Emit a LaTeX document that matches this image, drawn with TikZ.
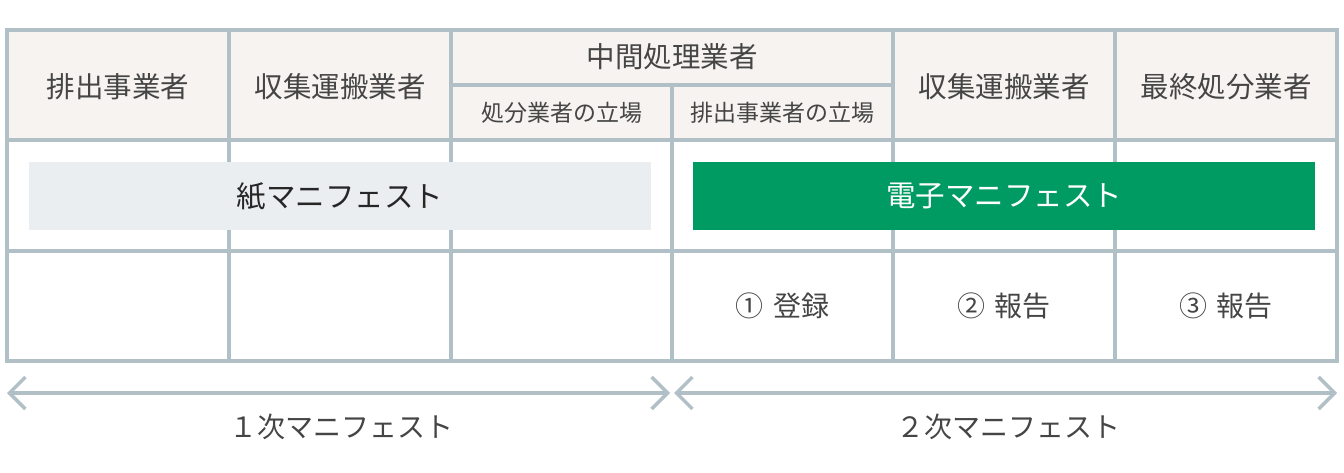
\documentclass[tikz,border=0pt]{standalone}
\usepackage{fontspec}
\setmainfont{Noto Sans CJK JP}
\usetikzlibrary{arrows.meta}
\definecolor{gridc}{HTML}{B1C0C7}
\definecolor{headbg}{HTML}{F6F3F0}
\definecolor{paperbg}{HTML}{EAEEF1}
\definecolor{egreen}{HTML}{009B63}
\definecolor{txt}{HTML}{454545}
\begin{document}
\begin{tikzpicture}[x=1pt,y=-1pt,
  gridline/.style={draw=gridc,line width=3.5pt},
  headtxt/.style={text=txt,font=\fontsize{28.5}{32}\selectfont,inner sep=0pt},
  subtxt/.style={text=txt,font=\fontsize{23}{28}\selectfont,inner sep=0pt},
  bodytxt/.style={text=txt,font=\fontsize{28}{32}\selectfont,inner sep=0pt},
  barbox/.style={anchor=north west,inner sep=0pt,minimum width=622pt,minimum height=68pt,font=\fontsize{29.5}{34}\selectfont},
  spanarrow/.style={draw=gridc,line width=3.5pt,{Straight Barb[length=16pt,width=32pt]}-{Straight Barb[length=16pt,width=32pt]}}]
\useasboundingbox (0,0) rectangle (1344,472);
\fill[headbg] (7,30) rectangle (1337,140);
\draw[gridline] (7,140) -- (1337,140);
\draw[gridline] (7,251) -- (1337,251);
\draw[gridline] (451,85) -- (893,85);
\foreach \x in {229,451,893,1115} \draw[gridline] (\x,30) -- (\x,361);
\draw[gridline] (672,85) -- (672,361);
\draw[gridline] (7,30) rectangle (1337,361);
% bars
\node[barbox,fill=paperbg,text=black!85] (paperbar) at (29,162) {紙マニフェスト};
\node[barbox,fill=egreen,text=white] (ebar) at (693,162) {電子マニフェスト};
% header texts
\node[headtxt] (h1) at (118,87) {排出事業者};
\node[headtxt] (h2) at (340,87) {収集運搬業者};
\node[headtxt] (h3) at (672,57) {中間処理業者};
\node[subtxt] (h3a) at (561.5,113) {処分業者の立場};
\node[subtxt] (h3b) at (782.5,113) {排出事業者の立場};
\node[headtxt] (h4) at (1004,87) {収集運搬業者};
\node[headtxt] (h5) at (1226,87) {最終処分業者};
% body texts
\node[bodytxt] (b1) at (782.5,306) {①\hspace{0.35em}登録};
\node[bodytxt] (b2) at (1004,306) {②\hspace{0.35em}報告};
\node[bodytxt] (b3) at (1226,306) {③\hspace{0.35em}報告};
% spans
\coordinate (a1) at (7,393);
\coordinate (a2) at (670,393);
\coordinate (c1) at (674,393);
\coordinate (c2) at (1337,393);
\draw[spanarrow] (a1) -- (a2);
\draw[spanarrow] (c1) -- (c2);
\node[bodytxt] (l1) at (341,427) {１次マニフェスト};
\node[bodytxt] (l2) at (1008,427) {２次マニフェスト};
\end{tikzpicture}
\end{document}
